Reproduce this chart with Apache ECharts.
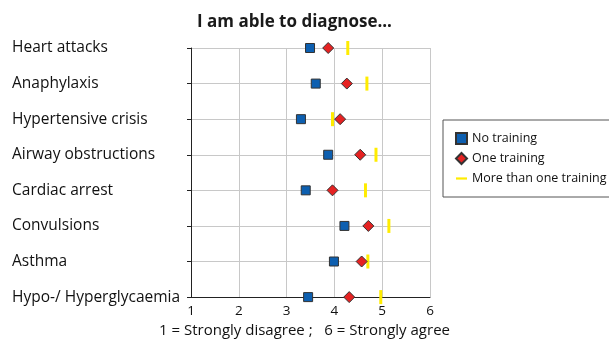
<!DOCTYPE html>
<html>
<head>
<meta charset="utf-8">
<script src="https://cdn.jsdelivr.net/npm/echarts@6/dist/echarts.min.js"></script>
<style>
html, body { margin: 0; padding: 0; background: #fff; }
#main { width: 609px; height: 343px; }
</style>
</head>
<body>
<div id="main"></div>
<script>
// categories, top to bottom
const categories = ['Heart attacks', 'Anaphylaxis', 'Hypertensive crisis', 'Airway obstructions',
    'Cardiac arrest', 'Convulsions', 'Asthma', 'Hypo-/ Hyperglycaemia'];
const noTraining = [3.49, 3.61, 3.30, 3.87, 3.40, 4.21, 3.99, 3.45];
const oneTraining = [3.87, 4.26, 4.12, 4.54, 3.96, 4.71, 4.57, 4.31];
const moreTraining = [4.28, 4.68, 3.96, 4.87, 4.65, 5.14, 4.70, 4.97];
const xTicks = [1, 2, 3, 4, 5, 6];

const font = 'Open Sans';
const pairs = (vals) => vals.map((v, i) => [v, categories[i]]);

const chart = echarts.init(document.getElementById('main'));
chart.setOption({
    animation: false,
    title: {
        text: 'I am able to diagnose...',
        left: 192,
        top: 9,
        textStyle: { fontFamily: font, fontSize: 17, fontWeight: 'bold', color: '#1a1a1a' }
    },
    legend: {
        orient: 'vertical',
        left: 443,
        top: 120,
        width: 166,
        padding: [12, 8, 12, 12],
        itemGap: 7,
        itemWidth: 11,
        itemHeight: 11,
        borderColor: '#555',
        borderWidth: 1,
        textStyle: { fontFamily: font, fontSize: 12.5, color: '#111' },
        data: [
            { name: 'No training', icon: 'rect' },
            { name: 'One training', icon: 'diamond' },
            { name: 'More than one training', icon: 'path://M0,0 H10 V2 H0 Z' }
        ]
    },
    grid: { left: 191, right: 179, top: 48, bottom: 41 },
    xAxis: {
        type: 'value',
        min: 1,
        max: 6,
        interval: 1,
        name: '1 = Strongly disagree ;   6 = Strongly agree',
        nameLocation: 'middle',
        nameGap: 25,
        nameTextStyle: { fontFamily: font, fontSize: 15, color: '#111', padding: [0, 12, 0, 0] },
        axisLine: { show: true, lineStyle: { color: '#222' } },
        axisTick: { show: false },
        axisLabel: { fontFamily: font, fontSize: 13.5, color: '#111', margin: 7,
            formatter: (v) => xTicks.includes(v) ? String(v) : '' },
        splitLine: { show: true, lineStyle: { color: '#c8c8c8' } }
    },
    yAxis: {
        type: 'category',
        data: categories,
        inverse: true,
        boundaryGap: false,
        axisLine: { show: true, lineStyle: { color: '#222' } },
        axisTick: { show: true, length: 4, lineStyle: { color: '#222' } },
        axisLabel: { fontFamily: font, fontSize: 15.5, color: '#111', align: 'left', margin: 179 },
        splitLine: { show: true, lineStyle: { color: '#c8c8c8' } }
    },
    series: [
        {
            name: 'No training',
            type: 'scatter',
            symbol: 'rect',
            symbolSize: 9,
            z: 3,
            itemStyle: { color: '#0d5fb0', borderColor: '#333', borderWidth: 1, opacity: 1 },
            data: pairs(noTraining)
        },
        {
            name: 'One training',
            type: 'scatter',
            symbol: 'diamond',
            symbolSize: 11,
            z: 4,
            itemStyle: { color: '#e52222', borderColor: '#333', borderWidth: 1, opacity: 1 },
            data: pairs(oneTraining)
        },
        {
            name: 'More than one training',
            type: 'scatter',
            symbol: 'rect',
            symbolSize: [3, 14],
            z: 2,
            itemStyle: { color: '#ffec00', opacity: 1 },
            data: pairs(moreTraining)
        }
    ]
});
</script>
</body>
</html>
